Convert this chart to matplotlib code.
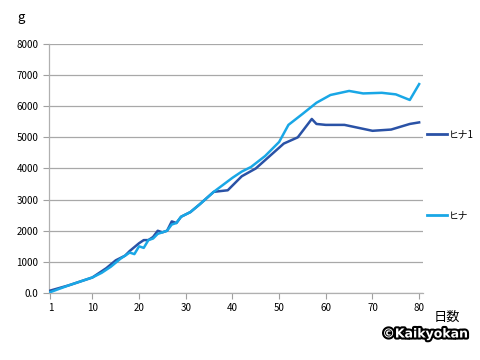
import matplotlib
matplotlib.use("Agg")
import matplotlib.pyplot as plt
import matplotlib.patheffects as pe
from matplotlib.lines import Line2D

plt.rcParams["font.family"] = ["Noto Sans CJK JP", "DejaVu Sans"]

# ヒナ1（濃い青）
days_1 = [1, 5, 10, 13, 15, 17, 18, 20, 21, 22, 23, 24, 25, 26, 27, 28, 29, 31, 33,
          36, 39, 42, 45, 48, 51, 54, 57, 58, 60, 64, 70, 74, 78, 80]
weight_1 = [80, 250, 500, 800, 1050, 1200, 1350, 1600, 1700, 1700, 1800, 2000, 1950,
            2000, 2300, 2250, 2450, 2600, 2850, 3250, 3300, 3750, 4000, 4400, 4800,
            5000, 5590, 5430, 5400, 5400, 5210, 5250, 5430, 5480]

# ヒナ（水色）
days_2 = [1, 5, 10, 12, 14, 16, 18, 19, 20, 21, 22, 23, 24, 26, 27, 28, 29, 31, 33,
          36, 40, 42, 44, 47, 50, 52, 55, 58, 61, 65, 68, 72, 75, 78, 80]
weight_2 = [30, 250, 500, 650, 850, 1100, 1300, 1250, 1500, 1450, 1700, 1750, 1900,
            2000, 2200, 2250, 2450, 2600, 2850, 3250, 3700, 3900, 4050, 4400, 4850,
            5400, 5750, 6110, 6360, 6490, 6410, 6430, 6380, 6200, 6710]

x_ticks = [1, 10, 20, 30, 40, 50, 60, 70, 80]
y_ticks = [0, 1000, 2000, 3000, 4000, 5000, 6000, 7000, 8000]
y_labels = ["0.0", "1000", "2000", "3000", "4000", "5000", "6000", "7000", "8000"]

dark = "#2a52a6"
light = "#19a7e6"

fig = plt.figure(figsize=(4.8, 3.6), dpi=100)
ax = fig.add_axes([0.102, 0.186, 0.779, 0.692])

ax.plot(days_1, weight_1, color=dark, linewidth=1.8, zorder=3)
ax.plot(days_2, weight_2, color=light, linewidth=1.8, zorder=4)

ax.set_xlim(0.7, 80.8)
ax.set_ylim(0, 8000)
ax.set_xticks(x_ticks)
ax.set_yticks(y_ticks)
ax.set_yticklabels(y_labels)
ax.tick_params(axis="both", labelsize=7, color="#a0a0a0", length=4, width=0.8)
ax.tick_params(axis="x", pad=3)
ax.grid(axis="y", color="#a8a8a8", linewidth=0.9)
ax.set_axisbelow(True)
for side in ["top", "right"]:
    ax.spines[side].set_visible(False)
for side in ["left", "bottom"]:
    ax.spines[side].set_color("#b0b0b0")
    ax.spines[side].set_linewidth(0.9)

# 凡例（離れて配置）
fig.add_artist(Line2D([427 / 480, 447 / 480], [1 - 134 / 360] * 2, color=dark, linewidth=2))
fig.text(449 / 480, 1 - 134 / 360, "ヒナ1", fontsize=7, va="center", ha="left")
fig.add_artist(Line2D([427 / 480, 447 / 480], [1 - 215 / 360] * 2, color=light, linewidth=2))
fig.text(449 / 480, 1 - 215 / 360, "ヒナ", fontsize=7, va="center", ha="left")

fig.text(21 / 480, 1 - 17 / 360, "g", fontsize=9.5, ha="center", va="center")
fig.text(447 / 480, 1 - 317 / 360, "日数", fontsize=9.5, ha="center", va="center")
fig.text(425 / 480, 1 - 334 / 360, "©Kaikyokan", fontsize=9, fontweight="bold",
         ha="center", va="center", color="white", family="DejaVu Sans",
         path_effects=[pe.withStroke(linewidth=3, foreground="black")])

plt.savefig("out.png", dpi=100)
